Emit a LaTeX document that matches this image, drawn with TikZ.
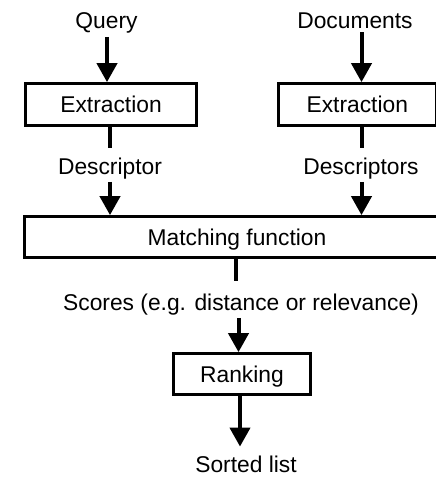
\documentclass[tikz,border=0pt]{standalone}
\usepackage{fontspec}
\setmainfont{Liberation Sans}
\usetikzlibrary{arrows.meta}
\begin{document}
\begin{tikzpicture}[x=1pt,y=-1pt,
  every node/.style={font=\fontsize{22.8}{27}\selectfont},
  lbl/.style={inner sep=0pt, anchor=base},
  stage/.style={draw, line width=2.7pt, inner sep=0pt, text height=16.3pt, text depth=0pt, align=center},
  stem/.style={line width=4pt},
  arr/.style={line width=4pt, -{Triangle[width=20pt,length=19pt]}}]
\useasboundingbox (0,0) rectangle (436,477);
\clip (0,0) rectangle (436,477);

% inputs
\node[lbl] (query) at (106.5,28) {Query};
\node[lbl] (docs) at (355,28) {Documents};

% feature extraction stages
\node[stage, minimum width=171pt, minimum height=42pt] (extq) at (111,104.5) {Extraction};
\node[stage, minimum width=157.5pt, minimum height=42pt] (extd) at (357.25,104.5) {Extraction};

\node[lbl] (descq) at (110,174) {Descriptor};
\node[lbl] (descd) at (361,174) {Descriptors};

% comparison and ordering
\node[stage, minimum width=425pt, minimum height=41pt] (match) at (237,237) {Matching function};
\node[lbl] (scores) at (241,310) {Scores (e.g. distance or relevance)};
\node[stage, minimum width=137pt, minimum height=41pt] (rank) at (242,374) {Ranking};
\node[lbl] (sorted) at (246,472) {Sorted list};

% connector columns
\coordinate (cq1) at (107,0);
\coordinate (cq2) at (110,0);
\coordinate (cd) at (361.5,0);
\coordinate (cm) at (236,0);
\coordinate (cs) at (238.5,0);
\coordinate (cr) at (240,0);

\draw[arr, shorten <=4pt] (query.south -| cq1) -- (extq.north -| cq1);
\draw[arr, shorten <=4pt] (docs.south -| cd) -- (extd.north -| cd);
\draw[stem, shorten >=9pt] (extq.south -| cq2) -- (descq.north -| cq2);
\draw[stem, shorten >=9pt] (extd.south -| cd) -- (descd.north -| cd);
\draw[arr, shorten <=3pt] (descq.south -| cq2) -- (match.north -| cq2);
\draw[arr, shorten <=3pt] (descd.south -| cd) -- (match.north -| cd);
\draw[stem, shorten >=12pt] (match.south -| cm) -- (scores.north -| cm);
\draw[arr, shorten <=3pt] (scores.south -| cs) -- (rank.north -| cs);
\draw[arr, shorten >=8.7pt] (rank.south -| cr) -- (sorted.north -| cr);
\end{tikzpicture}
\end{document}
